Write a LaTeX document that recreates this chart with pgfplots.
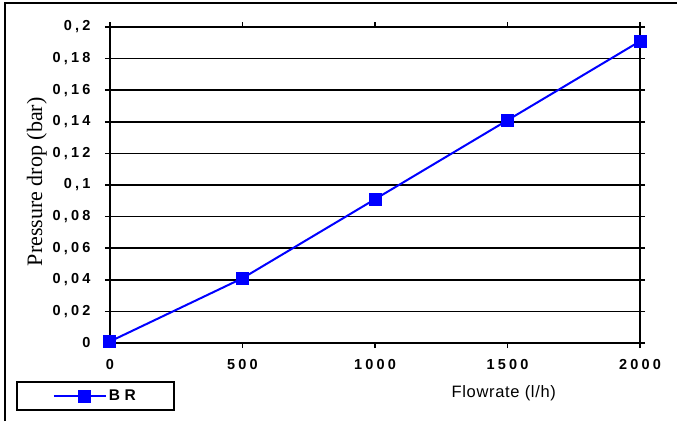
\documentclass[border=0pt]{standalone}
\usepackage{pgfplots}
\pgfplotsset{compat=1.18}
\usepackage{fontspec}
\setmainfont{Liberation Sans}
\newfontfamily\tickfont[LetterSpace=22]{Liberation Sans}
\newfontfamily\legfont[LetterSpace=30]{Liberation Sans}
\newfontfamily\labfont[LetterSpace=4]{Liberation Sans}
\newfontfamily\seriffont{Liberation Serif}
\definecolor{serblue}{RGB}{0,0,255}

\begin{document}
\begin{tikzpicture}
\useasboundingbox (-110pt,-78pt) rectangle (567pt,343pt);
% outer frame (only left and top edges are visible)
\draw[line width=2pt] (-105pt,-78pt) -- (-105pt,340pt) -- (567pt,340pt);
\begin{axis}[
  at={(0pt,0pt)}, anchor=south west,
  scale only axis,
  width=530pt, height=316pt,
  xmin=0, xmax=2000, ymin=0, ymax=0.2,
  xtick={0,500,1000,1500,2000},
  xticklabels={0,500,1000,1500,2000},
  ytick={0,0.02,0.04,0.06,0.08,0.1,0.12,0.14,0.16,0.18,0.2},
  yticklabels={0,{0,02},{0,04},{0,06},{0,08},{0,1},{0,12},{0,14},{0,16},{0,18},{0,2}},
  tick align=outside,
  major tick length=5pt,
  tick style={black, line width=1.5pt},
  axis line style={black, line width=2pt},
  ymajorgrids,
  grid style={black, line width=1.5pt},
  ticklabel style={font=\tickfont\bfseries\fontsize{14.5}{16}\selectfont},
  yticklabel style={xshift=-11pt},
  xticklabel style={yshift=-8pt},
  xlabel={Flowrate (l/h)},
  xlabel style={font=\labfont\fontsize{16.5}{18}\selectfont, at={(rel axis cs:0.743,0)}, anchor=center, yshift=-50pt},
  ylabel={Pressure drop (bar)},
  ylabel style={font=\seriffont\fontsize{22}{24}\selectfont, at={(rel axis cs:-0.138,0.51)}, anchor=center},
  legend style={at={(-94pt,-68pt)}, anchor=south west, draw=black, line width=1.6pt,
    font=\legfont\bfseries\fontsize{15.5}{17}\selectfont,
    inner xsep=36pt, inner ysep=6pt, legend cell align=left},
  legend image code/.code={
    \draw[#1, mark repeat=2, mark phase=2] plot coordinates {(0pt,0pt) (31pt,0pt) (52pt,0pt)};
  },
]
\addplot[serblue, line width=2pt, mark=square*, mark size=5.5pt, mark options={solid}] coordinates {
  (0,0.001) (500,0.041) (1000,0.091) (1500,0.141) (2000,0.191)
};
\addlegendentry{BR}
\end{axis}
\end{tikzpicture}
\end{document}
